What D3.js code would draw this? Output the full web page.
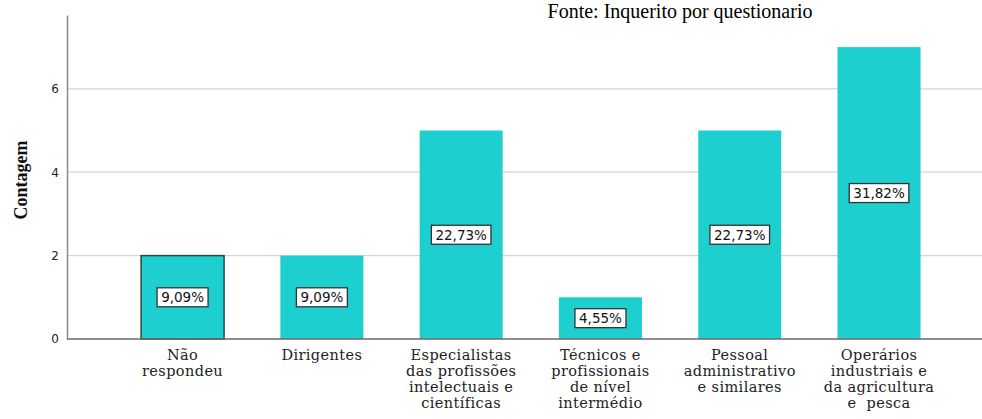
<!DOCTYPE html>
<html>
<head>
<meta charset="utf-8">
<script src="https://cdn.jsdelivr.net/npm/d3@7"></script>
<style>
  body { margin: 0; background: #fff; }
  svg { display: block; }
</style>
</head>
<body>
<div id="wrapper"></div>
<script>
const categories = [
  ["Não", "respondeu"],
  ["Dirigentes"],
  ["Especialistas", "das profissões", "intelectuais e", "científicas"],
  ["Técnicos e", "profissionais", "de nível", "intermédio"],
  ["Pessoal", "administrativo", "e similares"],
  ["Operários", "industriais e", "da agricultura", "e  pesca"]
];
const counts = [2, 2, 5, 1, 5, 7];
const percentLabels = ["9,09%", "9,09%", "22,73%", "4,55%", "22,73%", "31,82%"];
const yTicks = [0, 2, 4, 6];
const sourceNote = "Fonte: Inquerito por questionario";

function drawChart() {
  let dimensions = {
    width: 982,
    height: 419,
    margin: { top: 15, left: 67, bottom: 80, right: 0 }
  };
  dimensions.boundedWidth = dimensions.width - dimensions.margin.left - dimensions.margin.right;
  dimensions.boundedHeight = dimensions.height - dimensions.margin.top - dimensions.margin.bottom;

  const svg = d3.select("#wrapper").append("svg")
    .attr("width", dimensions.width)
    .attr("height", dimensions.height);

  const g = svg.append("g")
    .attr("transform", `translate(${dimensions.margin.left},${dimensions.margin.top})`);

  const idx = d3.range(counts.length);
  const xScale = d3.scaleBand()
    .domain(idx)
    .range([46.2, 46.2 + 139.2 * counts.length])
    .paddingInner(0.404)
    .paddingOuter(0.2);

  const yScale = d3.scaleLinear()
    .domain([0, 7.77])
    .range([dimensions.boundedHeight, 0]);

  // gridlines
  g.selectAll("line.grid")
    .data(yTicks.filter(d => d > 0))
    .enter().append("line")
    .attr("class", "grid")
    .attr("x1", 0).attr("x2", dimensions.boundedWidth)
    .attr("y1", d => yScale(d)).attr("y2", d => yScale(d))
    .attr("stroke", "#d4d4d4").attr("stroke-width", 1.2);

  // bars
  g.selectAll("rect.bar")
    .data(idx)
    .enter().append("rect")
    .attr("class", "bar")
    .attr("x", i => xScale(i))
    .attr("width", xScale.bandwidth())
    .attr("y", i => yScale(counts[i]))
    .attr("height", i => yScale(0) - yScale(counts[i]))
    .attr("fill", "#1ecfcf")
    .attr("stroke", i => i === 0 ? "#2b4a4a" : "none")
    .attr("stroke-width", 1.5);

  // percent labels
  const boxW = s => s.length * 8.6 + 8;
  const lab = g.selectAll("g.lab")
    .data(idx)
    .enter().append("g")
    .attr("class", "lab")
    .attr("transform", i => `translate(${xScale(i) + xScale.bandwidth() / 2},${(yScale(counts[i]) + yScale(0)) / 2})`);
  lab.append("rect")
    .attr("x", i => -boxW(percentLabels[i]) / 2)
    .attr("y", -9.5)
    .attr("width", i => boxW(percentLabels[i]))
    .attr("height", 19)
    .attr("fill", "#fff")
    .attr("stroke", "#333")
    .attr("stroke-width", 1.3);
  lab.append("text")
    .attr("text-anchor", "middle")
    .attr("dy", "0.36em")
    .style("font-family", "DejaVu Sans")
    .style("font-size", "13.5px")
    .style("fill", "#111")
    .text(i => percentLabels[i]);

  // axes
  const yAxisGen = d3.axisLeft(yScale).tickValues(yTicks).tickSize(0).tickPadding(8);
  const axisY = g.append("g").call(yAxisGen);
  axisY.select(".domain").attr("stroke", "#8a8a8a").attr("stroke-width", 1.5);
  axisY.selectAll("text")
    .style("font-family", "DejaVu Sans")
    .style("font-size", "12px")
    .style("fill", "#222");

  g.append("line")
    .attr("x1", 0).attr("x2", dimensions.boundedWidth)
    .attr("y1", yScale(0)).attr("y2", yScale(0))
    .attr("stroke", "#6a6a6a").attr("stroke-width", 1.5);

  // x labels
  const xl = g.selectAll("text.xl")
    .data(idx)
    .enter().append("text")
    .attr("class", "xl")
    .attr("text-anchor", "middle")
    .attr("x", i => xScale(i) + xScale.bandwidth() / 2)
    .attr("y", yScale(0) + 21)
    .style("font-family", "DejaVu Serif")
    .style("font-size", "14.5px")
    .style("letter-spacing", "0.4px")
    .style("fill", "#222");
  xl.selectAll("tspan")
    .data(i => categories[i])
    .enter().append("tspan")
    .attr("x", function() { return d3.select(this.parentNode).attr("x"); })
    .attr("dy", (d, j) => j === 0 ? 0 : 16)
    .style("white-space", "pre")
    .text(d => d);

  // y title
  svg.append("text")
    .attr("transform", `translate(27,180) rotate(-90)`)
    .attr("text-anchor", "middle")
    .style("font-family", "Liberation Serif")
    .style("font-weight", "bold")
    .style("font-size", "18px")
    .style("fill", "#111")
    .text("Contagem");

  // source
  svg.append("text")
    .attr("x", 680)
    .attr("y", 18)
    .attr("text-anchor", "middle")
    .style("font-family", "Liberation Serif")
    .style("font-size", "20px")
    .style("fill", "#000")
    .text(sourceNote);
}

drawChart();
</script>
</body>
</html>
